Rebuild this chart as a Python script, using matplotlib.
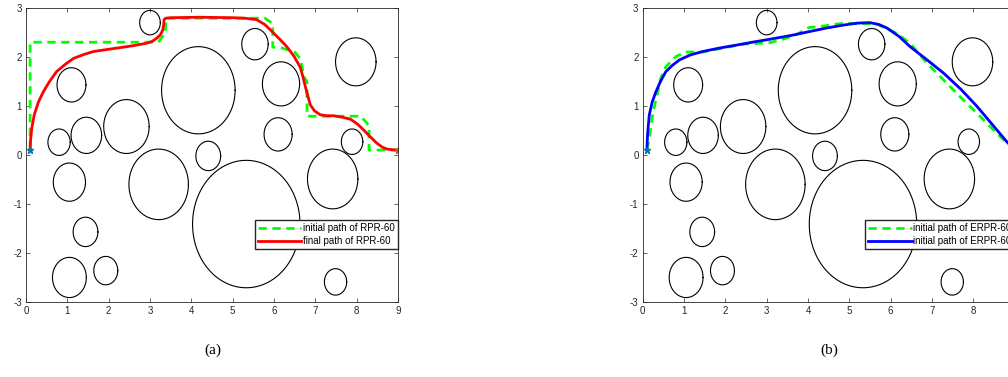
import numpy as np
import matplotlib.pyplot as plt

plt.rcParams['font.family'] = ['Liberation Sans', 'DejaVu Sans']
plt.rcParams['axes.unicode_minus'] = False

# obstacles: centre x, centre y, radius
obs_x = [3.0, 1.1, 0.8, 1.46, 2.43, 4.17, 5.54, 6.17, 7.98, 6.1, 7.89, 4.41,
         1.05, 3.21, 7.42, 1.44, 5.33, 1.05, 1.93, 7.49]
obs_y = [2.7, 1.43, 0.26, 0.4, 0.58, 1.32, 2.26, 1.45, 1.9, 0.42, 0.27, -0.02,
         -0.555, -0.6, -0.49, -1.57, -1.41, -2.5, -2.36, -2.59]
obs_r = [0.25, 0.35, 0.27, 0.37, 0.55, 0.89, 0.32, 0.45, 0.49, 0.34, 0.26, 0.3,
         0.39, 0.72, 0.61, 0.3, 1.3, 0.41, 0.29, 0.27]

start = (0.1, 0.1)
goal = (9.0, 0.1)

# (a) RPR-60
init_a_x = [0.1, 0.1, 3.2, 3.38, 3.38, 5.78, 5.97, 5.97, 6.2, 6.5, 6.65, 6.72,
            6.8, 6.8, 8.1, 8.3, 8.3, 9.0]
init_a_y = [0.1, 2.3, 2.3, 2.5, 2.79, 2.79, 2.68, 2.2, 2.18, 2.1, 1.95, 1.6,
            1.5, 0.79, 0.79, 0.6, 0.1, 0.1]
final_a_x = [0.1, 0.11, 0.14, 0.2, 0.3, 0.42, 0.57, 0.74, 0.95, 1.15, 1.4,
             1.63, 1.95, 2.28, 2.6, 2.92, 3.06, 3.16, 3.25, 3.31, 3.33, 3.34,
             3.38, 3.5, 4.2, 5.01, 5.3, 5.58, 5.78, 5.95, 6.13, 6.31, 6.48,
             6.63, 6.70, 6.76, 6.82, 6.88, 6.98, 7.12, 7.28, 7.44, 7.65, 7.85,
             8.02, 8.17, 8.33, 8.49, 8.62, 8.73, 8.88, 9.0]
final_a_y = [0.1, 0.3, 0.55, 0.82, 1.08, 1.29, 1.50, 1.70, 1.85, 1.97, 2.05,
             2.11, 2.15, 2.19, 2.23, 2.28, 2.32, 2.38, 2.45, 2.55, 2.65, 2.76,
             2.79, 2.80, 2.81, 2.80, 2.79, 2.76, 2.66, 2.52, 2.37, 2.21, 2.02,
             1.80, 1.60, 1.39, 1.20, 1.02, 0.90, 0.82, 0.80, 0.80, 0.77, 0.73,
             0.63, 0.51, 0.37, 0.24, 0.16, 0.12, 0.105, 0.1]

# (b) ERPR-60
init_b_x = [0.1, 0.16, 0.24, 0.44, 0.56, 0.81, 1.05, 1.45, 1.94, 2.42, 3.07,
            3.39, 3.71, 4.03, 4.37, 4.86, 5.67, 6.15, 6.47, 6.88, 7.28, 7.76,
            8.09, 8.57, 9.0]
init_b_y = [0.1, 0.34, 0.82, 1.57, 1.80, 2.01, 2.10, 2.10, 2.18, 2.26, 2.29,
            2.36, 2.45, 2.60, 2.63, 2.69, 2.67, 2.48, 2.28, 1.87, 1.53, 1.12,
            0.85, 0.44, 0.1]
final_b_x = [0.1, 0.12, 0.16, 0.23, 0.32, 0.43, 0.56, 0.72, 0.89, 1.15, 1.45,
             1.85, 2.26, 2.65, 3.07, 3.6, 4.05, 4.45, 4.86, 5.2, 5.50, 5.72,
             5.91, 6.2, 6.47, 6.88, 7.28, 7.7, 8.09, 8.45, 8.81, 9.0]
final_b_y = [0.1, 0.45, 0.82, 1.08, 1.29, 1.5, 1.70, 1.83, 1.94, 2.04, 2.11,
             2.18, 2.24, 2.30, 2.36, 2.44, 2.52, 2.59, 2.65, 2.69, 2.70, 2.66,
             2.59, 2.42, 2.21, 1.94, 1.67, 1.34, 0.99, 0.63, 0.27, 0.1]


def draw_map(ax):
    t = np.linspace(0, 2 * np.pi, 200)
    for cx, cy, r in zip(obs_x, obs_y, obs_r):
        ax.plot(cx + r * np.cos(t), cy + r * np.sin(t), color='k', lw=0.8)
    ax.set_xlim(0, 9)
    ax.set_ylim(-3, 3)
    ax.set_xticks(range(0, 10))
    ax.set_yticks(range(-3, 4))
    ax.tick_params(direction='in', top=True, right=True, labelsize=7,
                   length=3, width=0.5, colors='#262626', pad=3)
    for s in ax.spines.values():
        s.set_linewidth(0.6)
        s.set_color('#262626')


def add_legend(ax):
    h, l = ax.get_legend_handles_labels()
    ax.legend(h, l, loc='lower right', bbox_to_anchor=(1.0, 0.18),
              fontsize=7, fancybox=False, framealpha=1, edgecolor='#262626',
              handlelength=4.5, handletextpad=0.2, borderpad=0.3,
              labelspacing=0.3, borderaxespad=0)


fig = plt.figure(figsize=(10.08, 3.77), dpi=100)
ax1 = fig.add_axes([0.0258, 0.199, 0.369, 0.780])
ax2 = fig.add_axes([0.6376, 0.199, 0.369, 0.780])

draw_map(ax1)
ax1.plot(init_a_x, init_a_y, '--', color=(0, 1, 0), lw=2, dashes=(3, 2),
         label='initial path of RPR-60')
ax1.plot(final_a_x, final_a_y, '-', color='r', lw=2,
         label='final path of RPR-60')
ax1.plot(*start, '*', color='#0072BD', ms=5)
ax1.plot(*goal, '*', color='#D95319', ms=5)
add_legend(ax1)

draw_map(ax2)
ax2.set_xticklabels([str(i) for i in range(9)] + [''])
ax2.plot(init_b_x, init_b_y, '--', color=(0, 1, 0), lw=2, dashes=(3, 2),
         label='initial path of ERPR-60')
ax2.plot(final_b_x, final_b_y, '-', color='b', lw=2,
         label='initial path of ERPR-60')
ax2.plot(*start, '*', color='#0072BD', ms=5)
ax2.plot(*goal, '*', color='#D95319', ms=5)
add_legend(ax2)

fig.text(0.211, 0.07, '(a)', ha='center', va='center', fontsize=11,
         family='Liberation Serif')
fig.text(0.823, 0.07, '(b)', ha='center', va='center', fontsize=11,
         family='Liberation Serif')

fig.savefig('out.png', dpi=100)
